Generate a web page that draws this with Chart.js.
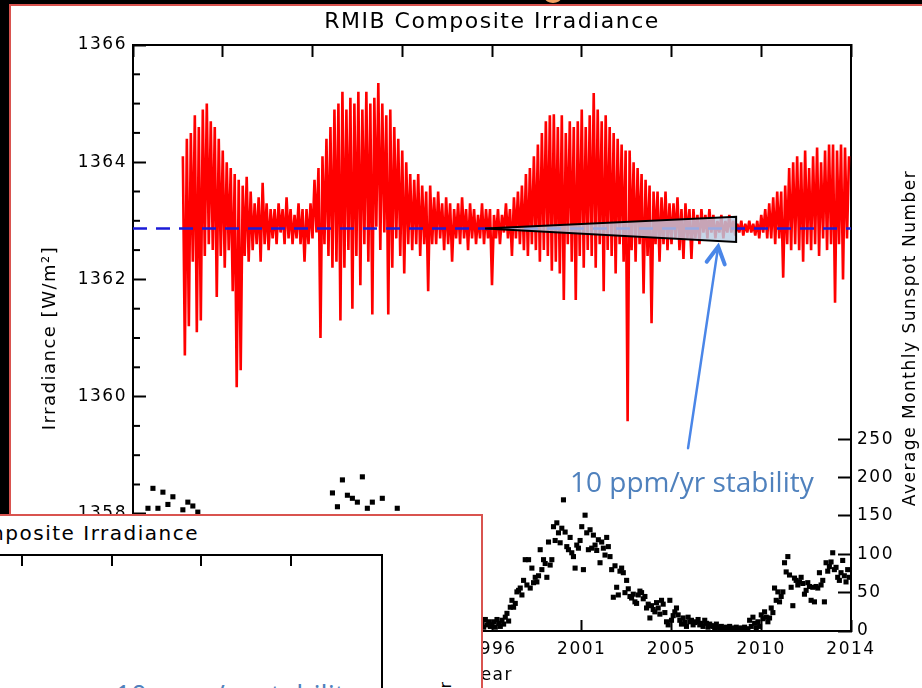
<!DOCTYPE html>
<html>

<head>
    <meta charset="utf-8">
    <title>RMIB Composite Irradiance</title>
    <script src="https://cdn.jsdelivr.net/npm/chart.js"></script>
    <style>
        html, body { margin: 0; padding: 0; }
        body { width: 922px; height: 688px; overflow: hidden; position: relative; background: #000; font-family: "DejaVu Sans", sans-serif; }
        #frame { position: absolute; left: 9px; top: 4px; width: 960px; height: 720px; background: #fff; border-left: 2px solid #d9534f; border-top: 2px solid #d9534f; }
        #chart { position: absolute; left: 0; top: 0; }
        .abs { position: absolute; white-space: nowrap; }
        #note { left: 570px; top: 462px; font: 28px "Open Sans", sans-serif; color: #4f81bd; }
        #inset { left: -4px; top: 514px; width: 483px; height: 200px; background: #fff; border: 2px solid #d9534f; }
        #insetTitle { right: 723px; top: 521px; font-size: 20px; letter-spacing: 1.5px; color: #000; }
        #insetNote { left: 115px; top: 675px; font: 28px "Open Sans", sans-serif; color: #4f81bd; }
        .bar { position: absolute; background: #000; }
        #orange { left: 545px; top: -7px; width: 16px; height: 10px; border-radius: 50%; background: #f2a15f; }
    </style>
</head>

<body>
    <div id="frame"></div>
    <div class="abs" id="orange"></div>
    <canvas id="chart" width="922" height="688"></canvas>
    <div class="abs" id="note">10 ppm/yr stability</div>

    <!-- pasted copy of the plot, bottom left -->
    <div class="abs" id="inset"></div>
    <div class="abs" id="insetTitle">RMIB Composite Irradiance</div>
    <div class="bar" style="left:0; top:554px; width:383px; height:2px;"></div>
    <div class="bar" style="left:381px; top:554px; width:2px; height:140px;"></div>
    <div class="bar" style="left:21px; top:555px; width:2px; height:11px;"></div>
    <div class="bar" style="left:111px; top:555px; width:2px; height:11px;"></div>
    <div class="bar" style="left:200px; top:555px; width:2px; height:11px;"></div>
    <div class="bar" style="left:290px; top:555px; width:2px; height:11px;"></div>
    <div class="abs" id="insetNote">10 ppm/yr stabilit</div>
    <div class="abs" style="left:436px; top:762px; width:80px; text-align:right; font-size:16px; transform:rotate(-90deg); transform-origin:0 0;">Number</div>

    <script>
    // axis ticks
    const yearTicks = [1978, 1982.5, 1987, 1991.5, 1996, 2000.5, 2005, 2009.5, 2014];
    const yearLabels = ['1978', '1983', '1987', '1992', '1996', '2001', '2005', '2010', '2014'];
    const irrTicks = [1356, 1358, 1360, 1362, 1364, 1366];
    const ssnTicks = [0, 50, 100, 150, 200, 250];

    // composite TSI, read every 0.1 yr starting 1980.5 (W/m2)
    const tsiStart = 1980.5;
    const tsiStep = 0.1;
    const tsiValues = [
        1364.1, 1360.7, 1364.4, 1361.2, 1364.5,
        1362.3, 1364.8, 1361.1, 1364.6, 1361.3, 1364.9, 1362.4, 1365.0, 1362.6, 1364.7, // 1981
        1362.5, 1364.6, 1361.7, 1364.4, 1362.4, 1364.2, 1362.2, 1364.0, 1362.5, 1363.9, // 1982
        1361.8, 1363.8, 1360.16, 1363.7, 1360.45, 1363.6, 1362.4, 1363.75, 1362.3, 1363.5, // 1983
        1362.5, 1363.3, 1362.6, 1363.4, 1362.3, 1363.65, 1362.6, 1363.3, 1362.5, 1363.2, // 1984
        1362.7, 1363.2, 1362.6, 1363.3, 1362.8, 1363.2, 1362.6, 1363.4, 1362.7, 1363.2, // 1985
        1362.6, 1363.1, 1362.7, 1363.3, 1362.6, 1363.2, 1362.3, 1363.2, 1362.6, 1363.3, // 1986
        1362.7, 1363.7, 1362.8, 1363.9, 1361.0, 1364.1, 1362.6, 1364.4, 1362.4, 1364.6, // 1987
        1362.2, 1364.9, 1362.3, 1365.0, 1361.3, 1365.2, 1362.2, 1364.9, 1362.5, 1365.1, // 1988
        1361.5, 1365.0, 1362.4, 1365.2, 1361.9, 1364.9, 1362.6, 1365.2, 1362.3, 1365.0, // 1989
        1361.4, 1365.1, 1362.9, 1365.35, 1362.5, 1365.0, 1362.8, 1364.8, 1361.4, 1364.9, // 1990
        1362.2, 1364.6, 1362.7, 1364.4, 1362.4, 1364.2, 1362.1, 1364.0, 1362.6, 1363.8, // 1991
        1362.5, 1363.7, 1362.6, 1363.8, 1362.4, 1363.6, 1362.6, 1363.5, 1361.8, 1363.6, // 1992
        1362.6, 1363.4, 1362.6, 1363.5, 1362.7, 1363.3, 1362.5, 1363.4, 1362.6, 1363.3, // 1993
        1362.3, 1363.2, 1362.7, 1363.3, 1362.6, 1363.4, 1362.7, 1363.2, 1362.5, 1363.3, // 1994
        1362.7, 1363.2, 1362.6, 1363.1, 1362.7, 1363.3, 1362.6, 1363.2, 1362.7, 1363.2, // 1995
        1361.9, 1363.1, 1362.7, 1363.2, 1362.6, 1363.1, 1362.8, 1363.3, 1362.7, 1363.2, // 1996
        1362.4, 1363.4, 1362.7, 1363.5, 1362.6, 1363.6, 1362.5, 1363.8, 1362.4, 1363.9, // 1997
        1362.6, 1364.1, 1362.5, 1364.3, 1362.3, 1364.5, 1362.5, 1364.7, 1362.4, 1364.8, // 1998
        1362.15, 1364.82, 1362.3, 1364.6, 1362.1, 1364.8, 1361.65, 1364.5, 1362.6, 1364.7, // 1999
        1362.3, 1364.6, 1361.65, 1364.7, 1362.4, 1364.9, 1362.2, 1364.6, 1362.5, 1364.8, // 2000
        1362.4, 1365.18, 1362.2, 1364.9, 1362.6, 1364.7, 1361.8, 1364.8, 1362.5, 1364.6, // 2001
        1362.4, 1364.5, 1362.1, 1364.4, 1362.6, 1364.3, 1362.3, 1364.2, 1359.58, 1364.2, // 2002
        1362.5, 1364.0, 1362.3, 1363.9, 1362.6, 1363.8, 1361.76, 1363.7, 1362.4, 1363.6, // 2003
        1361.25, 1363.5, 1362.6, 1363.5, 1362.3, 1363.4, 1362.6, 1363.5, 1362.5, 1363.3, // 2004
        1362.6, 1363.3, 1362.7, 1363.4, 1362.5, 1363.2, 1362.35, 1363.3, 1362.7, 1363.2, // 2005
        1362.35, 1363.2, 1362.7, 1363.1, 1362.6, 1363.2, 1362.8, 1363.1, 1362.7, 1363.2, // 2006
        1362.8, 1363.1, 1362.7, 1363.0, 1362.8, 1363.1, 1362.7, 1363.0, 1362.8, 1363.1, // 2007
        1362.8, 1363.0, 1362.75, 1362.95, 1362.8, 1363.0, 1362.75, 1362.95, 1362.8, 1363.0, // 2008
        1362.8, 1362.95, 1362.75, 1363.0, 1362.7, 1363.1, 1362.8, 1363.2, 1362.7, 1363.3, // 2009
        1362.7, 1363.4, 1362.6, 1363.5, 1362.7, 1363.5, 1362.03, 1363.6, 1362.6, 1363.9, // 2010
        1362.5, 1364.0, 1362.6, 1364.1, 1362.5, 1364.0, 1362.3, 1364.2, 1362.6, 1363.9, // 2011
        1362.5, 1364.1, 1362.6, 1364.25, 1362.4, 1364.0, 1362.7, 1364.2, 1362.5, 1364.3, // 2012
        1362.6, 1364.3, 1361.6, 1364.2, 1362.6, 1364.3, 1362.0, 1364.25, 1362.7, 1364.1  // 2013
    ];

    // monthly sunspot number: quarterly readings 1978.0-1995.25, monthly from 1995.5
    const ssnEarlyStart = 1978;
    const ssnEarly = [
        95, 110, 140, 160,  186, 160, 181, 165,  175, 140, 158, 168,  163, 155, 130, 140,
        120, 105, 110, 85,  90, 75, 60, 50,  55, 45, 35, 25,  18, 20, 12, 15,
        8, 12, 10, 20,  30, 45, 70, 110,  180, 162, 197, 177,  173, 168, 201, 160,
        168, 140, 173, 130,  135, 160, 130, 120,  110, 95, 80, 75,  65, 55, 50, 40,
        35, 30, 25, 20,  22, 15
    ];
    const ssnLateStart = 1995.5;
    const ssnLate = [
        10, 5, 15, 8, 12, 6,
        8, 12, 5, 15, 10, 6, 14, 9, 18, 23, 13, 31,            // 1996
        40, 31, 36, 51, 53, 56, 47, 66, 93, 60, 93, 56,        // 1997
        82, 63, 70, 64, 72, 106, 80, 93, 88, 70, 116, 86,      // 1998
        93, 136, 118, 141, 128, 115, 134, 171, 129, 110, 106, 122, // 1999
        102, 97, 82, 112, 108, 118, 136, 80, 151, 128, 106, 132,   // 2000
        108, 125, 112, 105, 119, 89, 116, 108, 99, 122, 110, 97,   // 2001
        80, 44, 85, 57, 47, 78, 82, 76, 50, 66, 55, 45,        // 2002
        43, 48, 38, 36, 47, 52, 50, 42, 45, 30, 35, 17,        // 2003
        33, 28, 25, 37, 30, 22, 40, 35, 24, 12, 8, 40,         // 2004
        14, 20, 25, 30, 21, 14, 9, 17, 11, 6, 18, 12,          // 2005
        14, 8, 11, 12, 15, 8, 10, 6, 14, 10, 5, 9,             // 2006
        7, 6, 4, 9, 5, 3, 6, 4, 2, 5, 3, 6,                    // 2007
        3, 4, 2, 5, 3, 2, 4, 1, 5, 2, 3, 14,                   // 2008
        6, 18, 10, 4, 12, 6, 21, 16, 25, 18, 12, 17,           // 2009
        30, 24, 56, 40, 51, 38, 45, 51, 89, 77, 97, 73,        // 2010
        57, 33, 69, 66, 60, 64, 70, 62, 48, 53, 63, 58,        // 2011
        40, 57, 38, 58, 56, 76, 60, 66, 38, 89, 78, 84,        // 2012
        90, 102, 80, 83, 70, 66, 76, 92, 72, 64, 80, 70        // 2013
    ];

    // annotations (data units)
    const refLevel = 1362.87;
    const wedgeX = [1995.65, 2008.24, 2008.24, 1995.65];
    const wedgeY = [1362.87, 1363.07, 1362.64, 1362.87];
    const arrowTail = [2005.83, 1359.12];
    const arrowTip = [2007.34, 1362.56];

    Chart.defaults.font.family = '"DejaVu Sans", sans-serif';
    Chart.defaults.color = '#000';

    var tsiPoints = tsiValues.map((v, i) => ({ x: tsiStart + i * tsiStep, y: v }));
    var ssnPoints = ssnEarly.map((v, i) => ({ x: ssnEarlyStart + i * 0.25, y: v }))
        .concat(ssnLate.map((v, i) => ({ x: ssnLateStart + i / 12, y: v })));

    var extras = {
        id: 'extras',
        beforeDraw(chart) {
            chart.ctx.letterSpacing = '1.5px';
        },
        afterDatasetsDraw(chart) {
            const ctx = chart.ctx;
            const xs = chart.scales.x, ys = chart.scales.y;
            // arrow
            const x1 = xs.getPixelForValue(arrowTail[0]), y1 = ys.getPixelForValue(arrowTail[1]);
            const x2 = xs.getPixelForValue(arrowTip[0]), y2 = ys.getPixelForValue(arrowTip[1]);
            const a = Math.atan2(y2 - y1, x2 - x1);
            ctx.save();
            ctx.strokeStyle = '#4a86e8';
            ctx.lineWidth = 2.5;
            ctx.lineCap = 'round';
            ctx.beginPath();
            ctx.moveTo(x1, y1);
            ctx.lineTo(x2, y2);
            ctx.stroke();
            ctx.lineWidth = 4;
            ctx.beginPath();
            ctx.moveTo(x2 - 19 * Math.cos(a - 0.5), y2 - 19 * Math.sin(a - 0.5));
            ctx.lineTo(x2, y2);
            ctx.lineTo(x2 - 19 * Math.cos(a + 0.5), y2 - 19 * Math.sin(a + 0.5));
            ctx.stroke();
            ctx.restore();
        },
        afterDraw(chart) {
            const ctx = chart.ctx;
            const ys = chart.scales.y;
            const area = chart.chartArea;
            ctx.save();
            // minor ticks on the irradiance axis
            ctx.strokeStyle = '#000';
            ctx.lineWidth = 2;
            for (let v = 1356.5; v < 1366; v += 0.5) {
                if (v % 2 === 0) continue;
                const y = ys.getPixelForValue(v);
                ctx.beginPath();
                ctx.moveTo(area.left, y);
                ctx.lineTo(area.left + 7, y);
                ctx.stroke();
            }
            // right axis title reads bottom to top
            ctx.letterSpacing = '1.5px';
            ctx.font = '17px "DejaVu Sans"';
            ctx.fillStyle = '#000';
            ctx.textAlign = 'center';
            ctx.textBaseline = 'middle';
            ctx.translate(911, (area.top + area.bottom) / 2);
            ctx.rotate(-Math.PI / 2);
            ctx.fillText('Average Monthly Sunspot Number', 0, 0);
            ctx.restore();
        }
    };

    var tickGrid = len => ({ drawOnChartArea: false, tickLength: len, tickWidth: 2, tickColor: '#000' });
    var axisBorder = { color: '#000', width: 2 };
    var plainNumber = v => String(v);

    var ctx = document.getElementById('chart').getContext('2d');
    var myChart = new Chart(ctx, {
        type: 'line',
        data: {
            datasets: [{
                label: 'wedge',
                data: wedgeX.map((x, i) => ({ x: x, y: wedgeY[i] })),
                borderColor: '#000',
                borderWidth: 2,
                backgroundColor: 'rgba(185, 205, 228, 0.8)',
                fill: 'shape',
                pointRadius: 0,
                order: 0
            }, {
                label: 'reference',
                data: [{ x: 1978, y: refLevel }, { x: 2014, y: refLevel }],
                borderColor: '#1c1cd8',
                borderWidth: 2.5,
                borderDash: [14, 9],
                pointRadius: 0,
                order: 1
            }, {
                label: 'TSI',
                data: tsiPoints,
                borderColor: '#ff0000',
                borderWidth: 2.6,
                borderJoinStyle: 'bevel',
                pointRadius: 0,
                order: 2
            }, {
                label: 'Sunspots',
                data: ssnPoints,
                yAxisID: 'ySsn',
                showLine: false,
                pointStyle: 'rect',
                pointRadius: 3.6,
                pointBorderWidth: 0,
                backgroundColor: '#000',
                borderColor: '#000',
                order: 3
            }]
        },
        options: {
            responsive: false,
            devicePixelRatio: 1,
            animation: false,
            events: [],
            plugins: {
                legend: { display: false },
                tooltip: { enabled: false },
                title: {
                    display: true,
                    fullSize: false,
                    text: 'RMIB Composite Irradiance',
                    color: '#000',
                    font: { size: 22, weight: 'normal' },
                    padding: { top: 9, bottom: 9.6 }
                }
            },
            scales: {
                x: {
                    type: 'linear',
                    position: 'bottom',
                    min: 1978,
                    max: 2014,
                    afterBuildTicks: s => { s.ticks = yearTicks.map(v => ({ value: v })); },
                    afterFit: s => { s.height = 57; },
                    ticks: {
                        autoSkip: false,
                        maxRotation: 0,
                        padding: 19,
                        font: { size: 17 },
                        callback: (v, i) => yearLabels[i]
                    },
                    grid: tickGrid(-11),
                    border: axisBorder,
                    title: { display: true, text: 'Year', font: { size: 17 }, padding: { top: 0, bottom: 2 } }
                },
                xTop: {
                    type: 'linear',
                    position: 'top',
                    min: 1978,
                    max: 2014,
                    afterBuildTicks: s => { s.ticks = yearTicks.map(v => ({ value: v })); },
                    afterFit: s => { s.height = 0; },
                    ticks: { display: false },
                    grid: tickGrid(-12),
                    border: axisBorder
                },
                y: {
                    type: 'linear',
                    position: 'left',
                    min: 1356,
                    max: 1366,
                    afterBuildTicks: s => { s.ticks = irrTicks.map(v => ({ value: v })); },
                    afterFit: s => { s.width = 133; },
                    ticks: { padding: 19, font: { size: 17 }, callback: plainNumber },
                    grid: tickGrid(-13),
                    border: axisBorder,
                    title: { display: true, text: 'Irradiance [W/m²]', font: { size: 18 }, padding: { top: 40, bottom: 0 } }
                },
                ySsn: {
                    type: 'linear',
                    position: 'right',
                    min: 0,
                    max: 764,
                    afterBuildTicks: s => { s.ticks = ssnTicks.map(v => ({ value: v })); },
                    afterFit: s => { s.width = 71; },
                    ticks: { padding: 19, font: { size: 17 }, callback: plainNumber },
                    grid: tickGrid(-13),
                    border: axisBorder
                }
            }
        },
        plugins: [extras]
    });
    </script>
</body>

</html>
